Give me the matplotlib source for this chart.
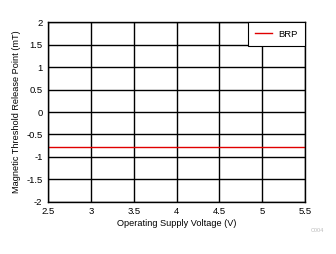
import matplotlib
matplotlib.use("Agg")
import matplotlib.pyplot as plt

voltage = [2.5, 3.0, 3.5, 4.0, 4.5, 5.0, 5.5]
brp = [-0.78, -0.78, -0.78, -0.78, -0.78, -0.78, -0.78]
x_ticks = [2.5, 3, 3.5, 4, 4.5, 5, 5.5]
x_labels = ["2.5", "3", "3.5", "4", "4.5", "5", "5.5"]
y_ticks = [-2, -1.5, -1, -0.5, 0, 0.5, 1, 1.5, 2]
y_labels = ["-2", "-1.5", "-1", "-0.5", "0", "0.5", "1", "1.5", "2"]

plt.rcParams['font.family'] = ['Liberation Sans', 'DejaVu Sans']
fig = plt.figure(figsize=(3.36, 2.54), dpi=100)
ax = fig.add_axes([0.143, 0.205, 0.765, 0.708])
ax.plot(voltage, brp, color='#e00000', lw=1.0, label='BRP')
ax.set_xlim(2.5, 5.5)
ax.set_ylim(-2, 2)
ax.set_xticks(x_ticks)
ax.set_xticklabels(x_labels)
ax.set_yticks(y_ticks)
ax.set_yticklabels(y_labels)
ax.grid(True, color='black', lw=1.0)
ax.set_axisbelow(True)
ax.tick_params(length=0, labelsize=6.8, pad=4)
for s in ax.spines.values():
    s.set_color('black')
    s.set_linewidth(1.0)
ax.set_xlabel('Operating Supply Voltage (V)', fontsize=6.6, labelpad=2)
ax.set_ylabel('Magnetic Threshold Release Point (mT)', fontsize=6.6, labelpad=4)
leg = ax.legend(loc='upper right', fontsize=6.8, frameon=True, fancybox=False,
                framealpha=1, borderaxespad=0, handlelength=1.8, borderpad=0.8,
                handletextpad=0.6)
leg.get_frame().set_edgecolor('black')
leg.get_frame().set_facecolor('white')
leg.get_frame().set_linewidth(0.8)
fig.text(0.945, 0.085, 'C004', fontsize=4, color='#bbbbbb', ha='center')
fig.savefig('out.png', dpi=100)
